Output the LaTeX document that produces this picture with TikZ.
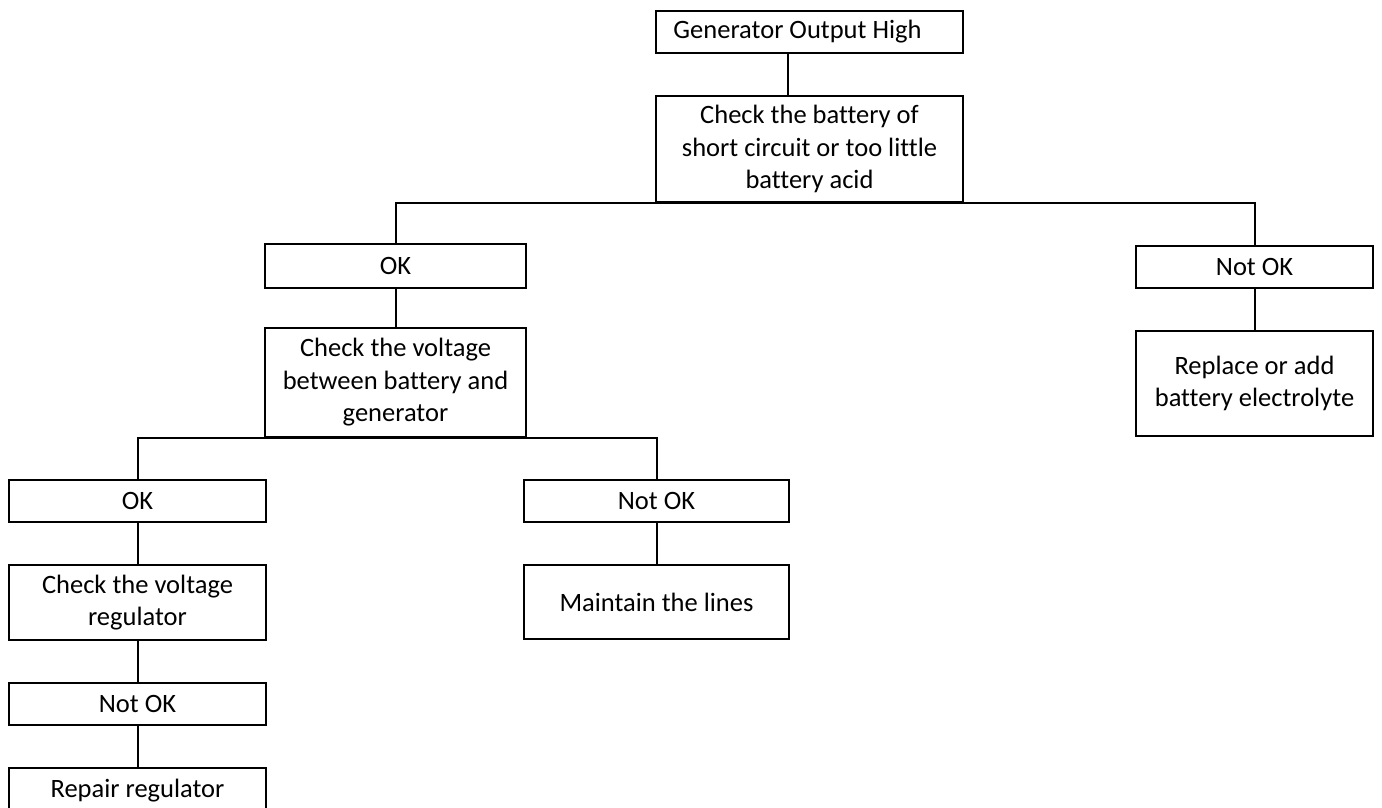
\documentclass[tikz,border=0pt]{standalone}
\usepackage{fontspec}
\setmainfont[Ligatures=NoCommon]{Carlito}
\begin{document}
\begin{tikzpicture}[x=1pt,y=-1pt,
  box/.style={draw=black, line width=2pt, anchor=north west, align=center, inner sep=0pt,
    font=\fontsize{26.5}{32.5}\selectfont},
  conn/.style={draw=black, line width=2pt}]
\useasboundingbox (0,0) rectangle (1382,807);
% boxes
\node[box, minimum width=307pt, minimum height=42pt] (top) at (655,10) {Generator Output High\hspace{24pt}};
\node[box, minimum width=307pt, minimum height=106pt] (chk) at (655,95) {Check the battery of\\short circuit or too little\\battery acid};
\node[box, minimum width=261pt, minimum height=44pt] (ok1) at (264,243) {OK};
\node[box, minimum width=237pt, minimum height=42pt] (nok1) at (1135,245) {Not OK};
\node[box, minimum width=261pt, minimum height=109pt] (cv) at (264,327) {Check the voltage\\between battery and\\generator};
\node[box, minimum width=237pt, minimum height=105pt] (rep) at (1135,330) {Replace or add\\battery electrolyte};
\node[box, minimum width=257pt, minimum height=42pt] (ok2) at (8,479) {OK};
\node[box, minimum width=265pt, minimum height=42pt] (nok2) at (523,479) {Not OK};
\node[box, minimum width=257pt, minimum height=75pt] (cvr) at (8,564) {Check the voltage\\regulator};
\node[box, minimum width=265pt, minimum height=74pt] (mnt) at (523,564) {Maintain the lines};
\node[box, minimum width=257pt, minimum height=42pt] (nok3) at (8,682) {Not OK};
\node[box, minimum width=257pt, minimum height=80pt, anchor=north west, text depth=0pt] (rr) at (8,767) {};
\node[anchor=base, font=\fontsize{26.5}{32.5}\selectfont, inner sep=0pt] (rrt) at ([yshift=-30pt]rr.north) {Repair regulator};
% connectors
\coordinate (c1) at (788,0);
\draw[conn] (c1 |- top.south) -- (c1 |- chk.north);
\draw[conn] (ok1.north) |- (chk.south) -| (nok1.north);
\draw[conn] (ok1.south) -- (cv.north);
\draw[conn] (nok1.south) -- (rep.north);
\draw[conn] (ok2.north) |- (cv.south) -| (nok2.north);
\draw[conn] (ok2.south) -- (cvr.north);
\draw[conn] (nok2.south) -- (mnt.north);
\draw[conn] (cvr.south) -- (nok3.north);
\draw[conn] (nok3.south) -- (rr.north);
\end{tikzpicture}
\end{document}
